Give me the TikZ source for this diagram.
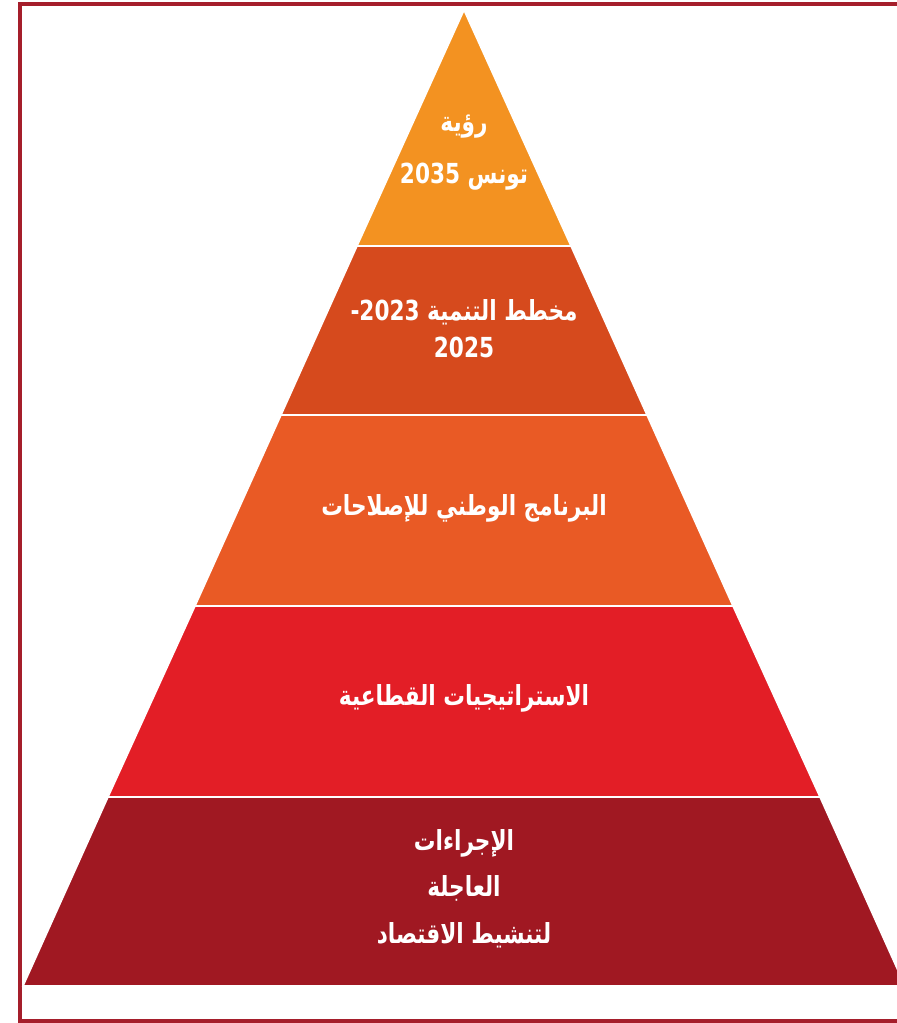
\documentclass[tikz,border=0pt]{standalone}
\usepackage{fontspec}
\usepackage{graphicx}
\newfontfamily\arabicfont[Script=Arabic]{DejaVu Sans}
\TeXXeTstate=1
\newcommand{\arline}[1]{\scalebox{0.94}[1.2]{\beginR #1\endR}}
\definecolor{frameRed}{HTML}{A51E2B}
\definecolor{tierOne}{HTML}{F39221}
\definecolor{tierTwo}{HTML}{D64A1D}
\definecolor{tierThree}{HTML}{E95A25}
\definecolor{tierFour}{HTML}{E31E26}
\definecolor{tierFive}{HTML}{A01822}
\begin{document}
\begin{tikzpicture}[x=1pt,y=-1pt,
  tier/.style={draw=white,line width=1.6pt},
  lbl/.style={text=white,inner sep=0pt,font=\arabicfont\bfseries\fontsize{23}{27}\selectfont}]
\useasboundingbox (0,0) rectangle (897,1023);
\clip (0,0) rectangle (897,1023);
\fill[white] (0,0) rectangle (897,1023);
\draw[frameRed,line width=4pt] (910,3.5) -- (19.5,3.5) -- (19.5,1021) -- (910,1021);

% pyramid tiers, top to bottom
\path[tier,fill=tierOne] (464,10) -- (571,246) -- (357,246) -- cycle;
\path[tier,fill=tierTwo] (357,246) -- (571,246) -- (647,415) -- (281,415) -- cycle;
\path[tier,fill=tierThree] (281,415) -- (647,415) -- (733,606) -- (195,606) -- cycle;
\path[tier,fill=tierFour] (195,606) -- (733,606) -- (820,797) -- (108,797) -- cycle;
\path[tier,fill=tierFive] (108,797) -- (820,797) -- (905,986) -- (23,986) -- cycle;

% labels
\node[lbl] (vision) at (464,127) {\arline{رؤية}};
\node[lbl] (tunis) at (464,177) {\arline{تونس \beginL2035\endL}};
\node[lbl] (plan) at (464,312) {\arline{مخطط التنمية \beginL2023-\endL}};
\node[lbl] (planend) at (464,347) {\arline{\beginL2025\endL}};
\node[lbl] (reforms) at (464,508) {\arline{البرنامج الوطني للإصلاحات}};
\node[lbl] (sectors) at (464,698) {\arline{الاستراتيجيات القطاعية}};
\node[lbl] (measures) at (464,843) {\arline{الإجراءات}};
\node[lbl] (urgent) at (464,888) {\arline{العاجلة}};
\node[lbl] (economy) at (464,935) {\arline{لتنشيط الاقتصاد}};
\end{tikzpicture}
\end{document}
